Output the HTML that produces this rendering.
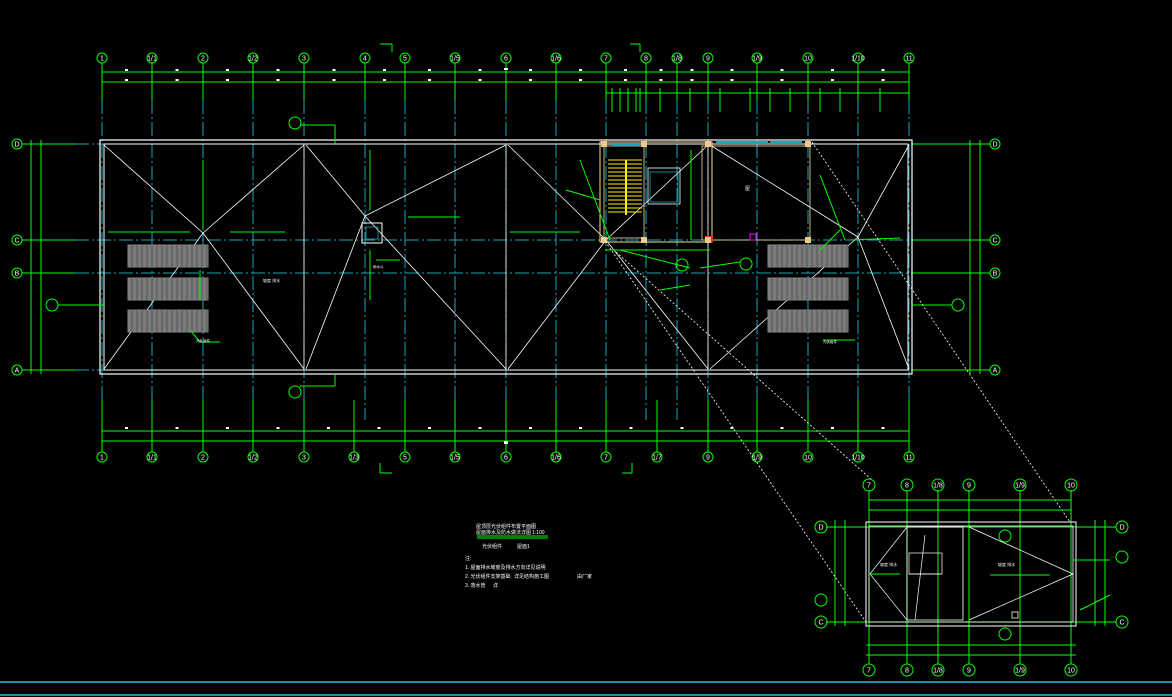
<!DOCTYPE html>
<html><head><meta charset="utf-8"><style>
html,body{margin:0;padding:0;background:#000;width:1172px;height:697px;overflow:hidden}
svg{display:block}
text{font-family:"Liberation Sans","Noto Sans CJK SC",sans-serif;fill:#fff}
</style></head><body>
<svg id="s" width="1172" height="697" xmlns="http://www.w3.org/2000/svg">
<rect width="1172" height="697" fill="#000"/>
<g id="g"></g>
<g font-size="5">
<text x="476" y="528" font-size="5">屋顶层光伏组件布置平面图</text>
<text x="476" y="534" font-size="5">屋面排水及防水做法详图</text><text x="532" y="534" font-size="5">1:100</text>
<line x1="477" y1="536" x2="548" y2="536" stroke="#00ff00" stroke-width="1"/>
<line x1="477" y1="538" x2="548" y2="538" stroke="#00ff00" stroke-width="1"/>
<text x="482" y="548" font-size="5">光伏组件</text><text x="517" y="548" font-size="5">屋面1</text>
<text x="465" y="560">注:</text>
<text x="465" y="569">1. 屋面排水坡度及排水方向详见说明</text>
<text x="465" y="578">2. 光伏组件支架基础</text><text x="514" y="578">详见结构施工图</text><text x="577" y="578">由厂家</text>
<text x="465" y="587">3. 落水管</text><text x="493" y="587">详</text>
</g>
</svg>
<script>
(function(){
const G=document.getElementById('g');const NS='http://www.w3.org/2000/svg';
function el(t,a){const e=document.createElementNS(NS,t);for(const k in a)e.setAttribute(k,a[k]);G.appendChild(e);return e;}
function L(x1,y1,x2,y2,c,w,d){const a={x1,y1,x2,y2,stroke:c,'stroke-width':w||1};if(d)a['stroke-dasharray']=d;el('line',a);}
function R(x,y,w,h,c,sw,f){el('rect',{x,y,width:w,height:h,stroke:c,'stroke-width':sw||0.001,fill:f||'none'});}
function B(x,y,t,r){r=r||5;el('circle',{cx:x,cy:y,r,stroke:'#00ff00','stroke-width':1,fill:'none'});const e=el('text',{x,y:y+2.5,'font-size':7,'text-anchor':'middle'});e.textContent=t;}
function T(x,y,t,s){const e=el('text',{x,y,'font-size':s||4});e.textContent=t;}
const GR='#00ff00',CY='#1aa6b7',W='#ffffff';
const topAx=[[102,'1'],[152,'1/1'],[203,'2'],[253,'1/2'],[304,'3'],[365,'4'],[405,'5'],[455,'1/5'],[506,'6'],[556,'1/6'],[606,'7'],[646,'8'],[677,'1/8'],[708,'9'],[757,'1/9'],[808,'10'],[858,'1/10'],[909,'11']];
const botAx=[[102,'1'],[152,'1/1'],[203,'2'],[253,'1/2'],[304,'3'],[354,'1/3'],[405,'5'],[455,'1/5'],[506,'6'],[556,'1/6'],[606,'7'],[657,'1/7'],[708,'9'],[757,'1/9'],[808,'10'],[858,'1/10'],[909,'11']];
const rows=[[144,'D'],[240,'C'],[273,'B'],[370,'A']];
topAx.forEach(([x])=>{L(x,63,x,100,GR);L(x,100,x,420,CY,1,'14 3 2 3');});
botAx.forEach(([x])=>{L(x,400,x,452,GR);});
rows.forEach(([y])=>{L(22,y,75,y,GR);L(75,y,985,y,CY,1,'14 3 2 3');L(912,y,990,y,GR);});
L(102,72,909,72,GR);L(102,82,909,82,GR);L(606,93,909,93,GR);
L(102,431,909,431,GR);L(102,441,909,441,GR);
L(31,140,31,374,GR);L(41,140,41,374,GR);L(970,140,970,374,GR);L(980,140,980,374,GR);
[612,620,628,636,640,660,690,720,750,770,790,820,840,880].forEach(x=>L(x,88,x,112,GR));
for(let i=0;i<topAx.length-1;i++){const m=(topAx[i][0]+topAx[i+1][0])/2;R(m-2,69,3,2,W,0,W);R(m-2,79,3,2,W,0,W);}
for(let i=0;i<botAx.length-1;i++){const m=(botAx[i][0]+botAx[i+1][0])/2;R(m-2,427,3,2,W,0,W);}
R(504,68,4,2,W,0,W);R(504,441,4,3,W,0,W);
topAx.forEach(([x,t])=>B(x,58,t));botAx.forEach(([x,t])=>B(x,457,t));
rows.forEach(([y,t])=>{B(17,y,t);B(995,y,t);});
R(100,140,812,234,W,1.2);R(104,144,804,226,W,1);
const Wl=(a,b,c,d)=>L(a,b,c,d,W,0.8);
[[102,304,203,233],[304,506,365,216],[506,708,606,240],[708,909,858,237]].forEach(([a,b,hx,hy])=>{Wl(a+2,145,hx,hy);Wl(b,145,hx,hy);Wl(a+2,369,hx,hy);Wl(b,369,hx,hy);});
[304,506,708].forEach(x=>Wl(x,145,x,369));
[[128,245],[128,278],[128,310],[768,245],[768,278],[768,310]].forEach(([x,y])=>{R(x,y,80,22,'#888',1,'#7a7a7a');for(let i=4;i<80;i+=5)L(x+i,y,x+i,y+22,'#555',1);});
R(600,142,112,100,'#f5e29a',1);R(604,146,40,92,'#f5e29a',0.8);R(702,146,108,94,'#f5e29a',0.8);
for(let y=160;y<215;y+=4)L(608,y,642,y,'#ffee00',1);L(626,160,626,215,'#ffee00',2);
R(648,168,32,36,W,0.8);R(650,172,28,30,CY,0.8);
L(612,145,640,145,CY,2);L(716,142,768,142,CY,2);L(770,142,802,142,CY,2);
R(705,236,8,6,'#ff2222',0,'#ff2222');R(750,234,6,6,'#ff00ff',1);
[[604,144],[644,144],[708,144],[808,144],[604,240],[644,240],[708,240],[808,240]].forEach(([x,y])=>R(x-3,y-3,6,6,'#f5c88a',0,'#f5c88a'));
L(580,160,610,240,GR);L(566,190,600,200,GR);L(620,250,690,268,GR);L(700,268,740,262,GR);L(660,290,690,285,GR);L(820,175,845,240,GR);L(850,240,900,238,GR);L(820,250,840,230,GR);
L(691,150,691,240,GR);L(605,250,710,250,GR);
B(682,265,'',6);B(746,264,'',6);
L(203,160,203,230,GR);L(370,150,370,210,GR);L(370,250,370,300,GR);L(408,217,460,217,GR);L(108,232,190,232,GR);L(230,232,285,232,GR);
L(200,270,200,300,GR);L(190,330,200,342,GR);L(200,342,220,342,GR);L(376,260,400,260,GR);L(823,340,855,340,GR);
L(510,232,580,232,GR);L(300,125,335,125,GR);L(335,125,335,145,GR);L(300,386,335,386,GR);L(335,375,335,386,GR);
B(295,123,'',6);B(295,392,'',6);B(52,305,'',6);B(958,305,'',6);L(58,305,104,305,GR);L(912,305,952,305,GR);
R(362,223,20,20,W,1);R(366,227,12,12,CY,0.8);
L(380,44,392,44,GR);L(392,44,392,52,GR);L(630,44,640,44,GR);L(640,44,640,52,GR);
L(380,473,392,473,GR);L(380,463,380,473,GR);L(622,473,632,473,GR);L(632,463,632,473,GR);
L(603,238,866,622,W,0.8,'2 2');L(616,252,872,480,W,0.8,'2 2');L(812,142,1070,522,W,0.8,'2 2');
const ix=[[869,'7'],[907,'8'],[938,'1/8'],[969,'9'],[1020,'1/9'],[1071,'10']];
ix.forEach(([x,t])=>{L(x,490,x,664,GR);B(x,485,t,6);B(x,670,t,6);});
[[527,'D'],[622,'C']].forEach(([y,t])=>{L(826,y,1116,y,GR);B(821,y,t,6);B(1122,y,t,6);});
B(1122,557,'',6);B(821,600,'',6);B(1005,536,'',6);B(1005,634,'',6);
L(869,500,1071,500,GR);L(869,510,1071,510,GR);L(866,645,1076,645,GR);L(866,655,1076,655,GR);
L(835,520,835,626,GR);L(845,520,845,626,GR);L(1095,520,1095,626,GR);L(1105,520,1105,626,GR);
R(866,522,210,104,W,1);R(869,526,204,96,W,0.8);R(907,527,56,93,W,0.8);
const iw=(a,b,c,d)=>L(a,b,c,d,W,0.7);
iw(870,574,907,527);iw(870,574,907,620);iw(969,527,1073,574);iw(969,620,1073,574);
R(909,553,33,21,W,0.7);iw(909,574,942,574);iw(922,527,962,527);iw(925,535,915,620);
L(870,574,900,574,GR);L(990,575,1050,575,GR);L(1073,560,1110,560,GR);L(1080,610,1110,595,GR);R(1012,612,6,6,W,0.8);
T(880,566,'坡度 排水',4);T(998,566,'坡度 排水',4);
L(0,682,1172,682,'#18c8e0',1.5);L(0,695,1172,695,'#18c8e0',1.5);
T(263,282,'坡度 排水',4);T(373,268,'雨水斗',3.5);T(196,342,'光伏组件',3.5);T(745,190,'屋',5);T(823,343,'光伏组件',3.5);
})();
</script>
</body></html>
